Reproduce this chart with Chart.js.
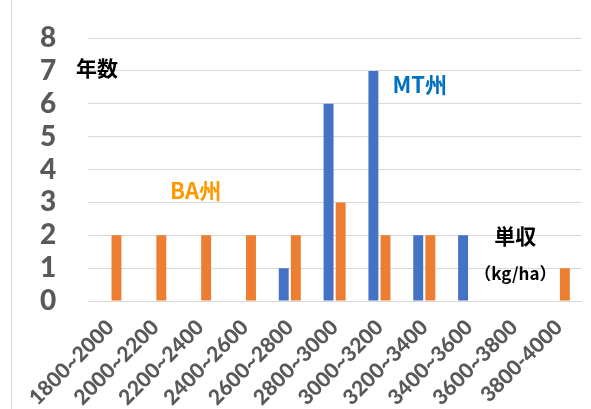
<!DOCTYPE html>
<html>
<head>
<meta charset="utf-8">
<script src="https://cdn.jsdelivr.net/npm/chart.js@4"></script>
<style>
  html, body { margin: 0; padding: 0; background: #fff; }
  #wrap { position: relative; width: 591px; height: 409px; }
  #edge { position: absolute; left: 11px; top: 0; width: 1px; height: 409px; background: #D9D9D9; }
  canvas { position: absolute; left: 0; top: 0; }
</style>
</head>
<body>
<div id="wrap">
  <div id="edge"></div>
  <canvas id="c" width="591" height="409"></canvas>
</div>
<script>
// Yield classes (kg/ha)
const categories = ['1800~2000', '2000~2200', '2200~2400', '2400~2600', '2600~2800',
                    '2800~3000', '3000~3200', '3200~3400', '3400~3600', '3600~3800', '3800-4000'];
// Number of years falling in each yield class
const mtYears = [0, 0, 0, 0, 1, 6, 7, 2, 2, 0, 0];
const baYears = [2, 2, 2, 2, 2, 3, 2, 2, 0, 0, 1];
const yTicks = [0, 1, 2, 3, 4, 5, 6, 7, 8];

// Free-floating labels, placed in axis units (category index, value)
const notes = [
  { text: '年数',     x: -0.30, y: 7.08, color: '#000000', font: 'bold 21px "Noto Sans CJK JP"' },
  { text: 'MT州',     x: 6.90,  y: 6.57, color: '#0070C0', font: 'bold 22px "Noto Sans CJK JP"' },
  { text: 'BA州',     x: 1.90,  y: 3.37, color: '#FF9900', font: 'bold 22px "Noto Sans CJK JP"' },
  { text: '単収',     x: 9.03,  y: 1.98, color: '#000000', font: 'bold 21px "Noto Sans CJK JP"' },
  { text: '（kg/ha）', x: 9.03,  y: 0.82, color: '#000000', font: 'bold 17px "Noto Sans CJK JP"' }
];

const notePlugin = {
  id: 'notes',
  afterDraw(chart) {
    const { ctx, scales } = chart;
    ctx.save();
    ctx.textAlign = 'center';
    ctx.textBaseline = 'middle';
    notes.forEach(n => {
      ctx.font = n.font;
      ctx.fillStyle = n.color;
      ctx.fillText(n.text, scales.x.getPixelForValue(n.x), scales.y.getPixelForValue(n.y));
    });
    ctx.restore();
  }
};

new Chart(document.getElementById('c'), {
  type: 'bar',
  data: {
    labels: categories,
    datasets: [
      { label: 'MT州', data: mtYears, backgroundColor: '#4472C4', borderWidth: 0 },
      { label: 'BA州', data: baYears, backgroundColor: '#ED7D31', borderWidth: 0 }
    ]
  },
  options: {
    responsive: false,
    animation: false,
    events: [],
    layout: { padding: { top: 38, right: 8, left: 40, bottom: 0 } },
    categoryPercentage: 0.54,
    barPercentage: 0.82,
    plugins: { legend: { display: false }, tooltip: { enabled: false } },
    scales: {
      x: {
        grid: { display: false, drawTicks: false },
        border: { display: true, color: '#D9D9D9', width: 1 },
        ticks: {
          minRotation: 45, maxRotation: 45, autoSkip: false, padding: 14,
          color: '#595959', font: { family: 'Lato', weight: 900, size: 21 }
        },
        afterFit(s) { s.height = 108; }
      },
      y: {
        min: 0, max: 8,
        afterBuildTicks(s) { s.ticks = yTicks.map(v => ({ value: v })); },
        grid: { color: '#D9D9D9', lineWidth: 1, drawTicks: false },
        border: { display: false },
        ticks: {
          autoSkip: false, padding: 0, crossAlign: 'far', color: '#595959',
          font: { family: 'Lato', weight: 900, size: 28 }
        },
        afterFit(s) { s.width = 48; }
      }
    }
  },
  plugins: [notePlugin]
});
</script>
</body>
</html>
